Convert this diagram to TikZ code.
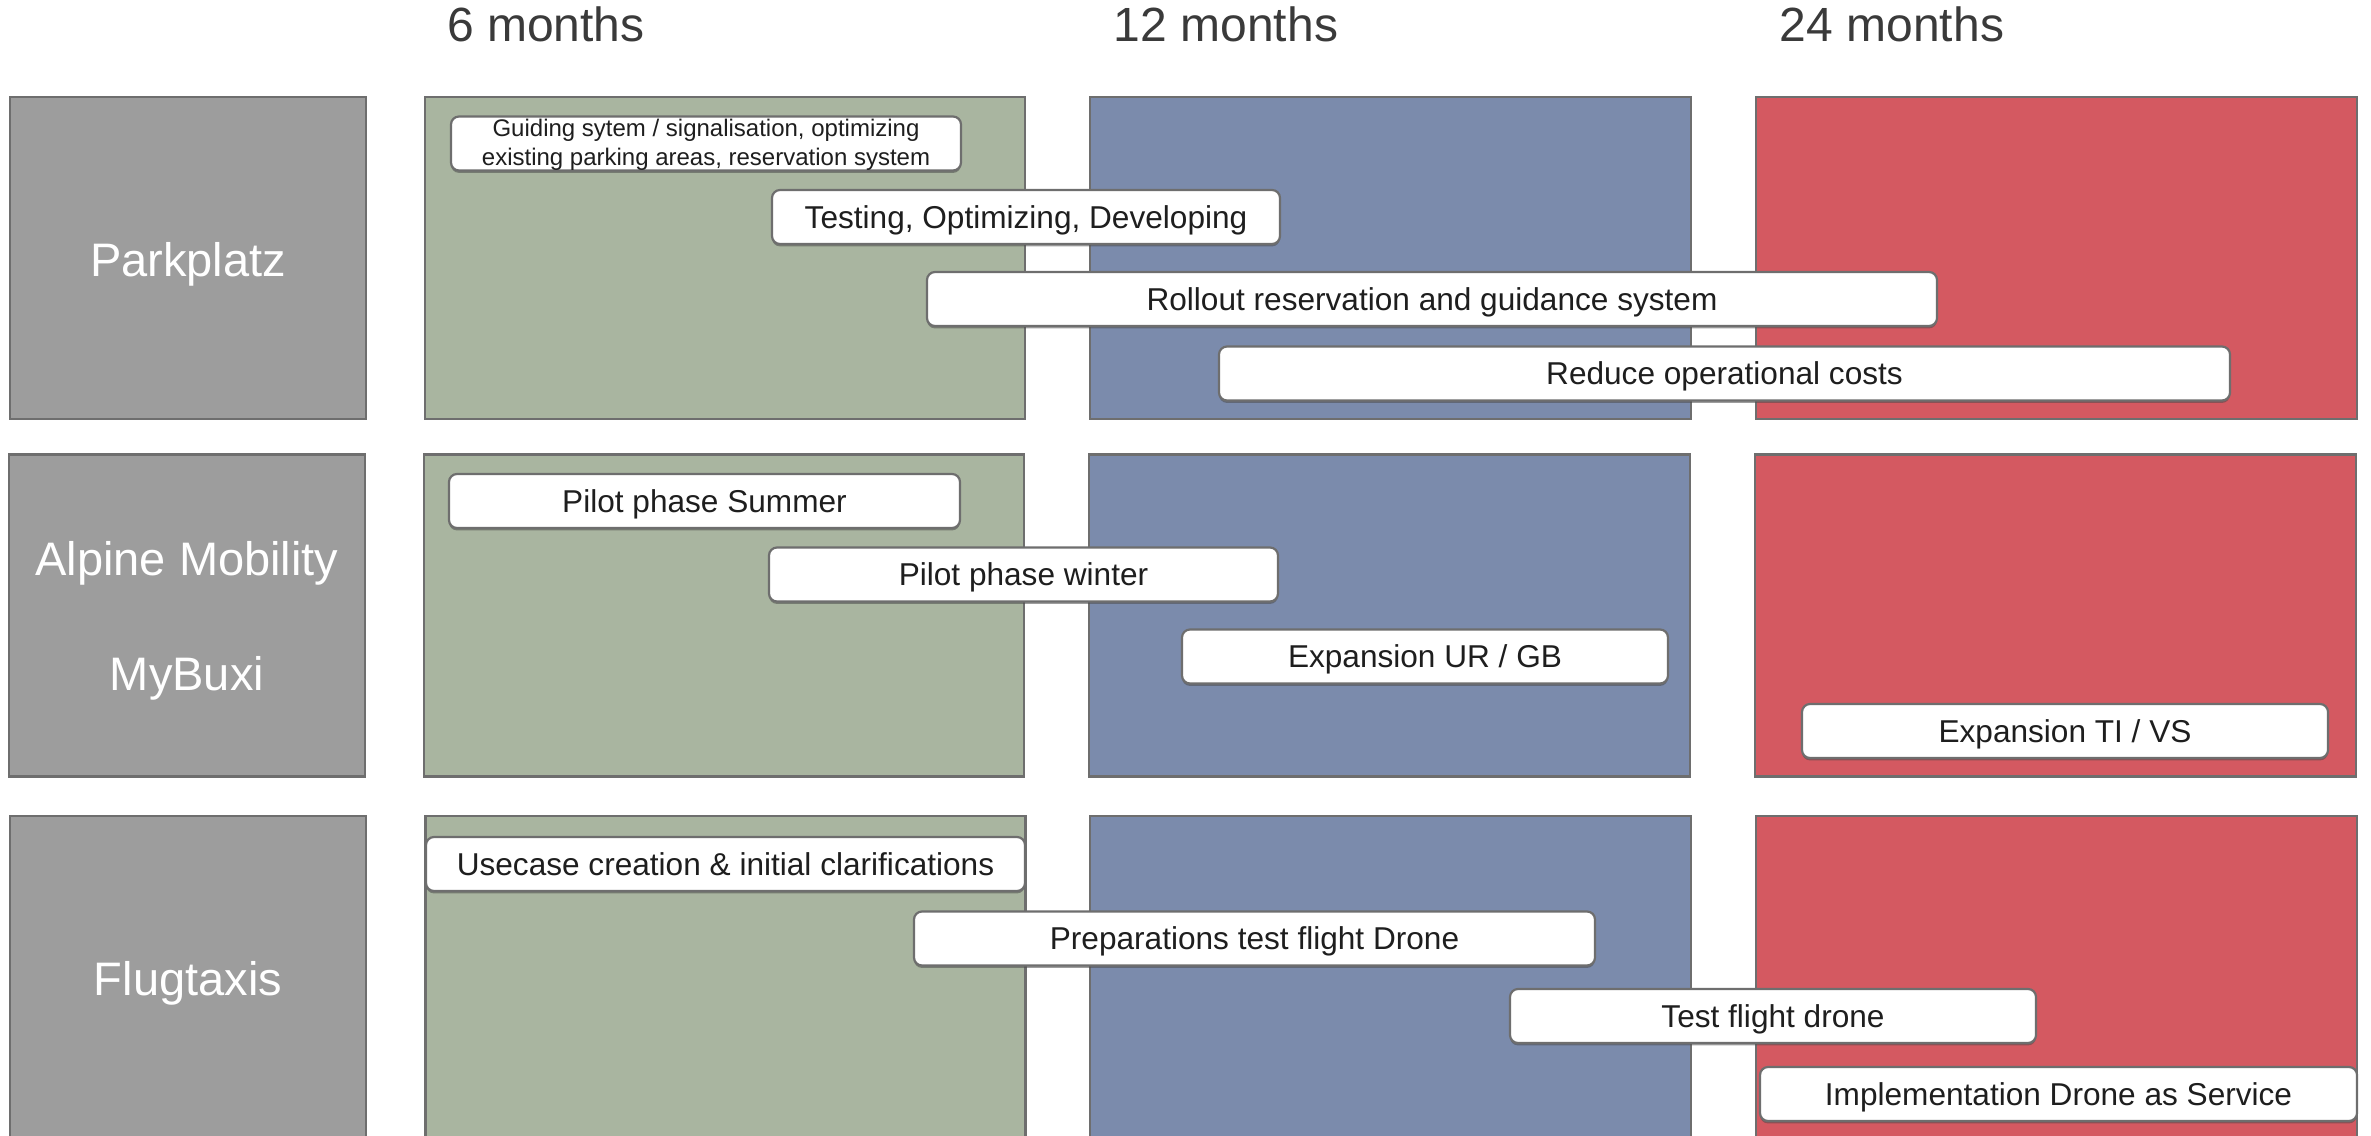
\documentclass[tikz,border=0pt]{standalone}
\usepackage{fontspec}
\setmainfont{Liberation Sans}
\usetikzlibrary{shadows}
\definecolor{edgegray}{RGB}{110,110,110}
\definecolor{labelgray}{RGB}{157,157,157}
\definecolor{phasegreen}{RGB}{169,181,160}
\definecolor{phaseblue}{RGB}{123,139,172}
\definecolor{phasered}{RGB}{212,89,97}
\definecolor{headtext}{RGB}{58,58,58}
\definecolor{tasktext}{RGB}{30,30,30}
\begin{document}
\begin{tikzpicture}[x=0.5pt,y=-0.5pt,
  panel/.style={draw=edgegray, line width=1.2pt, inner sep=0pt, minimum height=161pt},
  rowlabel/.style={panel, fill=labelgray, minimum width=178pt},
  labeltext/.style={text=white, align=center, inner sep=0pt,
    font=\fontsize{23.5}{28.5}\selectfont},
  greenpanel/.style={panel, fill=phasegreen, minimum width=300pt},
  bluepanel/.style={panel, fill=phaseblue, minimum width=300.5pt},
  redpanel/.style={panel, fill=phasered, minimum width=300.5pt},
  header/.style={text=headtext, font=\fontsize{24}{28}\selectfont, inner sep=0pt},
  taskbase/.style={draw=edgegray, fill=white, line width=1.1pt, rounded corners=4pt,
    minimum height=27pt, inner sep=0pt, text=tasktext,
    drop shadow={shadow xshift=0pt, shadow yshift=-1.2pt, opacity=0.55, fill=black!70}},
  task/.style={taskbase, font=\fontsize{15.8}{19}\selectfont,
    text height=13pt, text depth=2pt},
  smalltask/.style={taskbase, font=\fontsize{12}{14.5}\selectfont}
]
\useasboundingbox (0,0) rectangle (2371,1135);

% headers
\node[header] (h6)  at (546,24)  {6 months};
\node[header] (h12) at (1226,24) {12 months};
\node[header] (h24) at (1892,24) {24 months};

% row 1
\node[rowlabel]  (l1) at (188,258)    {};
\node[greenpanel] (g1) at (725,258)   {};
\node[bluepanel]  (b1) at (1390.5,258) {};
\node[redpanel]   (r1) at (2056.5,258) {};
\node[labeltext] (l1t) at ([yshift=-3pt]l1.center) {Parkplatz};

% row 2
\node[rowlabel]  (l2) at (187,615.5)    {};
\node[greenpanel] (g2) at (724,615.5)   {};
\node[bluepanel]  (b2) at (1389.5,615.5) {};
\node[redpanel]   (r2) at (2055.5,615.5) {};
\node[labeltext] (l2t) at ([yshift=-2.6pt]l2.center) {Alpine Mobility\\[29pt]MyBuxi};

% row 3
\node[rowlabel]  (l3) at (188,977)    {};
\node[greenpanel] (g3) at (725.5,977)   {};
\node[bluepanel]  (b3) at (1390.5,977) {};
\node[redpanel]   (r3) at (2056.5,977) {};
\node[labeltext] (l3t) at ([yshift=-3pt]l3.center) {Flugtaxis};

% tasks row 1
\node[smalltask, minimum width=255pt] (t1) at (706,143.5)
  {\raisebox{-10.75pt}[12pt][12pt]{\begin{tabular}[b]{@{}c@{}}Guiding sytem / signalisation, optimizing\\existing parking areas, reservation system\end{tabular}}};
\node[task, minimum width=254pt] (t2) at (1026,217) {Testing, Optimizing, Developing};
\node[task, minimum width=505pt] (t3) at (1432,299) {Rollout reservation and guidance system};
\node[task, minimum width=505.5pt] (t4) at (1724.5,373.5) {Reduce operational costs};

% tasks row 2
\node[task, minimum width=255.5pt] (t5) at (704.5,501) {Pilot phase Summer};
\node[task, minimum width=254.5pt] (t6) at (1023.5,574.5) {Pilot phase winter};
\node[task, minimum width=243pt] (t7) at (1425,656.5) {Expansion UR / GB};
\node[task, minimum width=263pt] (t8) at (2065,731) {Expansion TI / VS};

% tasks row 3
\node[task, minimum width=299.5pt] (t9) at (725.5,864) {Usecase creation \& initial clarifications};
\node[task, minimum width=340.5pt] (t10) at (1254.5,938.5) {Preparations test flight Drone};
\node[task, minimum width=263pt] (t11) at (1773,1016) {Test flight drone};
\node[task, minimum width=298.5pt] (t12) at (2058.5,1094) {Implementation Drone as Service};
\end{tikzpicture}
\end{document}
